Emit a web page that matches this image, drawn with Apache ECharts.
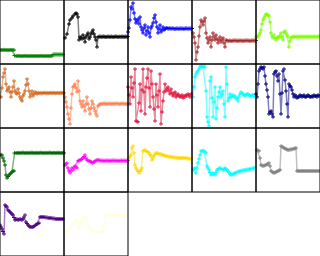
<!DOCTYPE html>
<html><head><meta charset="utf-8">
<script src="https://cdn.jsdelivr.net/npm/echarts@6/dist/echarts.min.js"></script>
<style>html,body{margin:0;padding:0;background:#fff}#c{width:320px;height:256px}</style>
</head><body><div id="c"></div>
<script>
const colors = ['#008000','#000000','#0000FF','#A52A2A','#7CFC00','#D2691E','#FF7F50','#DC143C','#00FFFF','#000080','#006400','#FF00FF','#FFD700','#00FFFF','#808080','#4B0082','#FFFFE0'];
const s1 = [[0,14],[1,14.1],[2,14],[3,13.9],[4,14.2],[5,14],[6,14],[7,14.1],[8,13.8],[9,14],[10,14],[11,14.1],[12,14],[13,13.9],[14,14],[14.5,8.5],[16,8],[17,8.1],[18,8.2],[19,8],[20,8],[21,8.1],[22,7.8],[23,8],[24,8],[25,8.2],[26,8.1],[27,8],[28,8],[29,7.9],[30,7.9],[31,8.1],[32,8],[33,8],[34,8.1],[35,8],[36,8],[37,8.1],[38,7.9],[39,8],[40,8],[41,8.2],[42,8.1],[43,8],[44,8],[45,7.9],[46,8],[47,8.1],[48,7.9],[49,8],[50,8],[51,8.1],[52,8],[53,9.5],[54,9.4],[55,9.6],[56,9.5],[57,9.5],[58,9.6],[59,9.4],[60,9.5],[61,9.5],[62,9.6],[63,9.5]];
const s2 = [[1,26],[3,30],[5,40],[6,44],[8,46],[9,48],[11,50],[12,51],[13,50],[14,47],[15,24],[16,27],[17,26],[18,25],[19,29],[20,26],[21,22],[22,27],[23,29],[24,31],[25,25],[26,27],[27,30],[28,32],[29,34],[30,30],[31,27],[32,24],[33,17],[34,27],[35,27.3],[36,27.5],[37,27.2],[38,27],[39,27.4],[40,27.5],[41,27.1],[42,27],[43,27.3],[44,27.5],[45,27.2],[46,27],[47,27.4],[48,27.3],[49,27.1],[50,27],[51,27.4],[52,27.5],[53,27.2],[54,27],[55,27.3],[56,27.3],[57,27.1],[58,27.5],[59,27.2],[60,27],[61,27.4],[62,27.3],[63,27.2],[64,27.3]];
const s3 = [[0,32],[1,36],[2,44],[3,57],[4,55],[5,61],[6,51],[7,45],[8,41],[9,43],[10,45],[11,40],[12,47],[13,37],[14,34],[15,31],[16,36],[17,39],[18,29],[19,33],[20,37],[21,31],[22,27],[23,36],[24,38],[25,41],[26,46],[27,49],[28,42],[29,37],[30,31],[31,35],[32,39],[33,32],[34,34],[35,37],[36,34],[37,35],[38,36],[39,36],[40,35.2],[41,35.5],[42,35.8],[43,35.2],[44,35.5],[45,35.7],[46,35.3],[47,35],[48,35.6],[49,35.4],[50,35.5],[51,35.1],[52,35.7],[53,35.5],[54,35.2],[55,35.6],[56,35],[57,35.4],[58,35.7],[59,35.5],[60,35.2],[61,35.6],[62,35.5],[63,35.3],[64,35.5]];
const s4 = [[1,31],[2,27],[3,21],[4,4],[5,12],[6,17],[7,28],[8,37],[9,44],[10,42],[11,39],[12,43],[13,46],[14,31],[15,26],[16,21],[17,24],[18,27],[19,17],[20,24],[21,31],[22,27],[23,24],[24,29],[25,25],[26,21],[27,24],[28,27],[29,22],[30,24],[31,26],[32,21],[33,17],[34,24],[35,23.5],[36,23],[37,23.3],[38,23.5],[39,23.1],[40,23],[41,23.4],[42,23.6],[43,23.5],[44,23.2],[45,23.4],[46,23],[47,23.5],[48,23.3],[49,23.5],[50,23.1],[51,23.4],[52,23],[53,23.5],[54,23.6],[55,23.5],[56,23.2],[57,23.4],[58,23],[59,23.3],[60,23.5],[61,23.5],[62,23.2],[63,23.4],[64,23.5]];
const s5 = [[0,27],[1,27.5],[2,27],[3,29],[4,31],[5,34],[6,40],[7,44],[8,46],[9,48],[10,50],[11,49.5],[12,49],[13,48],[14,42],[15,31],[16,28],[17,26],[18,29],[19,26],[20,24],[21,26],[22,27],[23,26],[24,28],[25,31],[26,27],[27,24],[28,32],[29,33],[30,31],[31,29],[32,27],[33,17],[34,23],[35,26],[36,27],[37,27.5],[38,27.2],[39,27.4],[40,27],[41,27.6],[42,27.3],[43,27.5],[44,27.1],[45,27.4],[46,27],[47,27.5],[48,27.3],[49,27.5],[50,27.2],[51,27.4],[52,27],[53,27.5],[54,27.3],[55,27.5],[56,27.1],[57,27.4],[58,27.3],[59,27.6],[60,27.2],[61,27.5],[62,27.3],[63,27.4],[64,27.5]];
const s6 = [[0,31],[1,31],[2,40],[3,51],[4,55],[5,59],[6,44],[7,37],[8,39],[9,41],[10,36],[11,31],[12,36],[13,41],[14,47],[15,37],[16,35],[17,34],[18,39],[19,35],[20,31],[21,29],[22,27],[23,32],[24,34],[25,37],[26,43],[27,49],[28,44],[29,37],[30,31],[31,34],[32,37],[33,32],[34,34],[35,36],[36,35],[37,34],[38,35.3],[39,35],[40,34.6],[41,35.2],[42,34.5],[43,35],[44,35.3],[45,35],[46,34.7],[47,35.2],[48,34.5],[49,35],[50,35.3],[51,35],[52,34.8],[53,35.2],[54,35],[55,34.7],[56,35.1],[57,35],[58,35.3],[59,34.8],[60,35],[61,35.2],[62,34.9],[63,35],[64,35]];
const s7 = [[1,31],[2,26],[3,21],[4,14],[5,9],[6,4],[7,20],[8,34],[9,41],[10,42],[11,44],[12,40],[13,36],[14,47],[15,37],[16,27],[17,24],[18,21],[19,27],[20,22],[21,17],[22,24],[23,31],[24,24],[25,19],[26,14],[27,20],[28,27],[29,24],[30,20],[31,17],[32,14],[33,12],[34,22],[35,23],[36,24],[37,24.3],[38,24],[39,24.5],[40,24.2],[41,24.5],[42,24],[43,24.3],[44,24],[45,24.5],[46,24.2],[47,24.5],[48,24],[49,24.4],[50,24],[51,24.3],[52,24.5],[53,24.5],[54,24.1],[55,24.3],[56,24],[57,24.4],[58,24.2],[59,24.5],[60,24.1],[61,24.3],[62,24],[63,24.2],[64,24]];
const s8 = [[0,41],[1,33],[2,24],[3,51],[4,40],[5,31],[6,45],[7,59],[8,7],[9,6.5],[10,6],[11,25],[12,44],[13,17],[14,38],[15,59],[16,36],[17,14],[18,41],[19,50],[20,59],[21,40],[22,21],[23,57],[24,44],[25,31],[26,19],[27,7],[28,44],[29,33],[30,21],[31,37],[32,54],[33,4],[34,16],[35,27],[36,36],[37,44],[38,37],[39,39],[40,41],[41,37],[42,34],[43,39],[44,35],[45,32],[46,34],[47,36],[48,31],[49,33],[50,34],[51,32],[52,31],[53,32],[54,33],[55,30],[56,32],[57,31],[58,33],[59,32],[60,34],[61,33],[62,31],[63,34]];
const s9 = [[1,31],[2,41],[3,51],[4,54],[5,56],[6,57],[7,59],[8,61],[9,62],[10,61.5],[11,61],[12,62],[13,61],[14,37],[15,11],[16,6],[17,2],[18,47],[19,51],[20,30],[21,11],[22,26],[23,41],[24,9],[25,20],[26,31],[27,36],[28,41],[29,31],[30,34],[31,37],[32,24],[33,11],[34,61],[35,44],[36,27],[37,30],[38,34],[39,31],[40,32],[41,33],[42,31],[43,32],[44,30],[45,29],[46,27],[47,31],[48,34],[49,36],[50,35],[51,34],[52,33],[53,32],[54,33],[55,34],[56,34],[57,33],[58,32],[59,32],[60,33],[61,33],[62,32],[63,31]];
const s10 = [[0,34],[1,31],[2,44],[3,57],[4,59],[5,61],[6,60],[7,59],[8,61],[9,52],[10,44],[11,38],[12,31],[13,14],[14,16],[15,17],[16,14],[17,11],[18,54],[19,56],[20,57],[21,52],[22,47],[23,54],[24,34],[25,14],[26,35],[27,57],[28,59],[29,48],[30,37],[31,24],[32,11],[33,44],[34,42],[35,41],[36,38],[37,34],[38,31],[39,33],[40,32],[41,30],[42,31],[43,31],[44,33],[45,32],[46,31],[47,32],[48,33],[49,31],[50,31],[51,32],[52,33],[53,32],[54,31],[55,31],[56,32],[57,31],[58,33],[59,32],[60,32],[61,31],[62,33],[63,32]];
const s11 = [[0,37],[1,37.2],[2,37],[3,34],[4,31],[5,27],[6,17],[7,14],[8,15.5],[9,17],[10,18],[11,19],[12,20],[13,21],[14,21],[14.5,39],[16,39],[17,39],[18,39.2],[19,39],[20,39],[21,39.3],[22,39],[23,39.5],[24,39.1],[25,39],[26,39],[27,39.3],[28,39.1],[29,39],[30,39.2],[31,39],[32,39.5],[33,39.1],[34,39],[35,39],[36,39.3],[37,39.1],[38,39],[39,39.2],[40,39],[41,39.5],[42,39.1],[43,39],[44,39],[45,39.3],[46,39.1],[47,39],[48,39.2],[49,39],[50,39.5],[51,39.1],[52,39],[53,39],[54,39.3],[55,39.1],[56,39],[57,39.2],[58,39],[59,39.3],[60,39.1],[61,39],[62,39],[63,39.2],[64,39]];
const s12 = [[1,27],[2,28],[3,29],[4,24],[5,21],[6,19],[7,21],[8,24],[9,22],[10,24],[11,26],[12,25],[13,24],[14,31],[15,31.5],[16,32],[17,32.5],[18,33],[19,34],[20,35.5],[21,37],[22,34],[23,32],[24,31.5],[25,31],[26,31],[27,30],[28,29.5],[29,29],[30,30],[31,31],[32,31.5],[33,31.8],[34,32],[35,31.7],[36,31.4],[37,31.5],[38,31.2],[39,31.4],[40,31],[41,31.3],[42,31.5],[43,31.5],[44,31.2],[45,31.4],[46,31],[47,31.3],[48,31.5],[49,31.5],[50,31.2],[51,31.4],[52,31.3],[53,31.1],[54,31.4],[55,31],[56,31.3],[57,31.5],[58,31.3],[59,31.2],[60,31.4],[61,31.3],[62,31.1],[63,31.4],[64,31.3]];
const s13 = [[1,34],[2,35.5],[3,37],[4,44],[5,46],[6,39],[7,27],[8,24],[9,22],[10,20.5],[11,19],[12,20.5],[13,22],[14,24],[15,41],[16,41.5],[17,42],[18,41],[19,40.5],[20,40],[21,39],[22,37.5],[23,36],[24,32],[25,34],[26,36],[27,37.5],[28,39],[29,38.7],[30,38.5],[31,38.2],[32,38],[33,37.7],[34,37.3],[35,37],[36,36.7],[37,36.3],[38,36],[39,35.8],[40,35.6],[41,35.4],[42,35.2],[43,35],[44,34.9],[45,34.8],[46,34.6],[47,34.5],[48,34.3],[49,34.2],[50,34],[51,34.1],[52,34],[53,33.9],[54,34],[55,34.1],[56,33.9],[57,34],[58,33.8],[59,33.7],[60,33.5],[61,33.4],[62,33.2],[63,33]];
const s14 = [[1,22],[2,23],[3,24],[4,19],[5,24],[6,29],[7,33],[8,37],[9,41],[10,41],[11,41.2],[12,41],[13,40],[14,39],[15,26],[16,24],[17,22],[18,19.5],[19,17],[20,18],[21,19],[22,18],[23,17],[24,19.5],[25,22],[26,23],[27,23.5],[28,24],[29,23.5],[30,22.5],[31,22],[32,23],[33,24],[34,23],[35,22],[36,21],[37,19.5],[38,18],[39,17],[40,17.5],[41,18],[42,18.5],[43,19],[44,19.4],[45,19.8],[46,20.2],[47,20.6],[48,21],[49,21.2],[50,21.4],[51,21.6],[52,21.8],[53,22],[54,22.2],[55,22.4],[56,22.6],[57,22.8],[58,23],[59,23.2],[60,23.4],[61,23.6],[62,23.8],[63,24]];
const s15 = [[1,42],[2,41.5],[3,41],[4,34],[5,27],[6,26.5],[7,26],[8,26.3],[9,26.7],[10,27],[11,27.7],[12,28.3],[13,29],[14,26],[15,21],[16,20.3],[17,19.6],[18,19],[19,19.5],[20,20],[21,20.5],[22,21],[23,21.5],[24,22],[25,46],[26,45.3],[27,44.7],[28,44],[29,43.5],[30,43],[31,42.5],[32,42],[33,42.2],[34,42.4],[35,42.6],[36,42.8],[37,43],[38,43.3],[39,43.7],[40,44],[41,21],[42,21],[43,21.1],[44,21],[45,21],[46,21.1],[47,21],[48,21],[49,21.1],[50,21],[51,21],[52,21.1],[53,21],[54,21],[55,21.1],[56,21],[57,21],[58,21.1],[59,21],[60,21],[61,21.1],[62,21],[63,21]];
const s16 = [[0,31],[1,29],[2,27],[3,24.5],[4,22],[5,51],[6,50],[7,49],[8,46],[9,45],[10,44],[11,43],[12,42],[13,41],[14,38.5],[15,36],[16,36.5],[17,37],[18,36],[19,36.5],[20,37],[21,36.5],[22,36],[23,37],[24,39],[25,41],[26,34],[27,32.5],[28,31],[29,30],[30,29],[31,29],[32,29],[33,29],[34,29.8],[35,30.5],[36,31.2],[37,32],[38,32.5],[39,33],[40,39],[41,39],[42,39],[43,39],[44,38.9],[45,38.7],[46,38.6],[47,38.4],[48,38.3],[49,38.1],[50,38],[51,37.9],[52,37.7],[53,37.6],[54,37.4],[55,37.3],[56,37.1],[57,37],[58,37],[59,37],[60,37],[61,37],[62,37],[63,37]];
const s17 = [[1,24],[2,24.5],[3,25],[4,25.5],[5,26],[6,27],[7,28.5],[8,30],[9,32],[10,34.5],[11,37],[12,35.5],[13,34],[14,27],[15,29.5],[16,32],[17,33.5],[18,35],[19,37],[20,37.5],[21,38],[22,38.5],[23,39],[24,31],[25,28.5],[26,26],[27,25.7],[28,25.4],[29,25.1],[30,24.8],[31,24.5],[32,24.3],[33,24],[34,24],[35,24],[36,24],[37,24],[38,24],[39,24],[40,32],[41,41],[42,41],[43,41],[44,41],[45,41],[46,41],[47,41],[48,41],[49,41],[50,41],[51,41],[52,41],[53,41],[54,40.9],[55,40.8],[56,40.7],[57,40.6],[58,40.5],[59,40.4],[60,40.3],[61,40.2],[62,40.1],[63,40]];
const allSeries = [s1,s2,s3,s4,s5,s6,s7,s8,s9,s10,s11,s12,s13,s14,s15,s16,s17];

const cols = 5, cell = 64;
const plus = 'path://M4,0H6V4H10V6H6V10H4V6H0V4H4Z';
const grid = [], xAxis = [], yAxis = [], series = [], graphic = [];
allSeries.forEach((d, i) => {
  const c = i % cols, r = Math.floor(i / cols);
  grid.push({left: c*cell, top: r*cell, width: cell, height: cell, show: false});
  xAxis.push({gridIndex: i, type: 'value', min: 0, max: 64, show: false});
  yAxis.push({gridIndex: i, type: 'value', min: 0, max: 64, show: false});
  series.push({
    type: 'line', xAxisIndex: i, yAxisIndex: i, data: d,
    symbol: plus, symbolSize: 4, showSymbol: true, showAllSymbol: true,
    lineStyle: {color: colors[i], width: 1.5, opacity: 0.5},
    itemStyle: {color: colors[i]},
    clip: true, silent: true
  });
  graphic.push({type: 'rect', shape: {x: c*cell, y: r*cell, width: cell, height: cell},
    style: {fill: null, stroke: '#000', lineWidth: 1}, z: 100, silent: true});
});
const chart = echarts.init(document.getElementById('c'), null, {renderer: 'canvas'});
chart.setOption({animation: false, backgroundColor: '#fff', grid, xAxis, yAxis, series, graphic});
</script></body></html>
